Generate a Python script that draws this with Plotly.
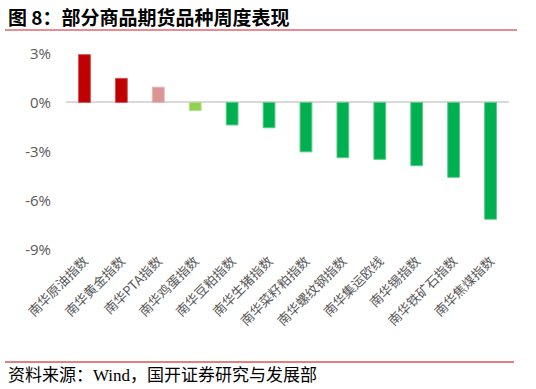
import plotly.graph_objects as go

categories = ["南华原油指数", "南华黄金指数", "南华PTA指数", "南华鸡蛋指数", "南华豆粕指数",
              "南华生猪指数", "南华菜籽粕指数", "南华螺纹钢指数", "南华集运欧线",
              "南华锡指数", "南华铁矿石指数", "南华焦煤指数"]
values = [2.92, 1.47, 0.93, -0.50, -1.38, -1.55, -3.02, -3.38, -3.48, -3.87, -4.58, -7.14]
colors = ["#C00000", "#C00000", "#D99694", "#92D050", "#00B050", "#00B050",
          "#00B050", "#00B050", "#00B050", "#00B050", "#00B050", "#00B050"]
line_colors = ["#D65050", "#D65050", "#E6B3B1", "#B5E08A", "#5CCB8A", "#5CCB8A",
               "#5CCB8A", "#5CCB8A", "#5CCB8A", "#5CCB8A", "#5CCB8A", "#5CCB8A"]
y_ticks = [3, 0, -3, -6, -9]
y_tick_labels = ["3%", "0%", "-3%", "-6%", "-9%"]

W, H = 536, 389
L, R, T, B = 66, 27, 53, 139
pw, ph = W - L - R, H - T - B

def px(x):
    return (x - L) / pw

def py(y):
    return (H - B - y) / ph

fig = go.Figure(go.Bar(
    x=categories, y=values,
    marker=dict(color=colors, line=dict(color=line_colors, width=1)),
    width=0.32,
))

fig.update_layout(
    width=W, height=H,
    margin=dict(l=L, r=R, t=T, b=B),
    paper_bgcolor="white", plot_bgcolor="white",
    showlegend=False,
    xaxis=dict(
        showgrid=False, showline=False, ticks="",
        tickangle=-45,
        tickfont=dict(family="Noto Sans CJK SC", size=13, color="#595959"),
    ),
    yaxis=dict(
        range=[-9.02, 3.02],
        tickvals=y_ticks, ticktext=y_tick_labels,
        showgrid=False, showline=False, ticks="",
        zeroline=True, zerolinecolor="#D9D9D9", zerolinewidth=2,
        tickfont=dict(family="Open Sans, Noto Sans CJK SC", size=15, color="#595959"),
        ticklabelstandoff=14,
    ),
    shapes=[
        dict(type="line", xref="paper", yref="paper",
             x0=px(5), x1=px(517), y0=py(30), y1=py(30),
             line=dict(color="#E06670", width=1.5)),
        dict(type="line", xref="paper", yref="paper",
             x0=px(5), x1=px(514), y0=py(362), y1=py(362),
             line=dict(color="#C00000", width=1)),
    ],
    annotations=[
        dict(text="<b>图 8：部分商品期货品种周度表现</b>", xref="paper", yref="paper",
             x=px(6), y=py(16), xanchor="left", yanchor="middle", showarrow=False,
             font=dict(family="Noto Sans CJK SC", size=19, color="#000000")),
        dict(text="资料来源：Wind，国开证券研究与发展部", xref="paper", yref="paper",
             x=px(6), y=py(375), xanchor="left", yanchor="middle", showarrow=False,
             font=dict(family="Liberation Serif, Noto Sans CJK SC", size=17, color="#000000")),
    ],
)

fig.write_html("out.html")
